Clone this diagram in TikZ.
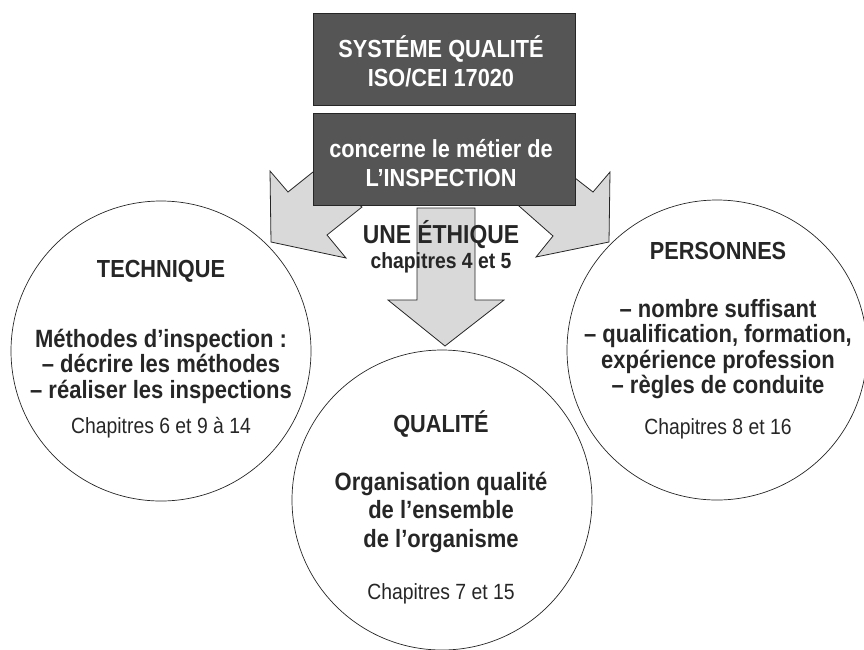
\documentclass[tikz,border=0pt]{standalone}
\usepackage{fontspec}
\setmainfont{Liberation Sans}[FakeStretch=0.88]
\definecolor{boxgray}{RGB}{85,85,85}
\definecolor{arrowgray}{RGB}{217,217,217}
\definecolor{ink}{RGB}{38,38,38}
\tikzset{
  darkbox/.style={draw=black!85, line width=0.8pt, fill=boxgray},
  blockarrow/.style={draw=black!85, line width=0.8pt, fill=arrowgray, line join=miter},
  ring/.style={circle, draw=black!85, line width=0.7pt, minimum size=300pt, inner sep=0pt},
  boxtext/.style={text=white, font=\bfseries\fontsize{24.7}{29}\selectfont, align=center, inner sep=0pt},
  headtext/.style={text=ink, font=\bfseries\fontsize{24.7}{25}\selectfont, align=center, inner sep=0pt},
  bodytext/.style={text=ink, font=\bfseries\fontsize{25}{25.5}\selectfont, align=center, inner sep=0pt},
  chaptext/.style={text=ink, font=\fontsize{22}{23}\selectfont, align=center, inner sep=0pt},
}
\begin{document}
\begin{tikzpicture}[x=1pt,y=-1pt]
\useasboundingbox (0,0) rectangle (864,649);
\clip (0,0) rectangle (864,649);
% side arrows
\draw[blockarrow] (270,171) -- (288,192) -- (313,172) -- (362,207) -- (327,235) -- (346,258) -- (271,242) -- cycle;
\draw[blockarrow] (610,172) -- (593,192) -- (575,178) -- (519,206) -- (553,236) -- (536,257) -- (609,242) -- cycle;
% boxes
\node[darkbox, minimum width=262pt, minimum height=92pt, inner sep=0pt] (sys) at (444,59) {};
\node[darkbox, minimum width=262pt, minimum height=92pt, inner sep=0pt] (conc) at (444,159) {};
\node[boxtext] (systxt) at (441,61) {SYSTÉME QUALITÉ\\ISO/CEI 17020};
\node[boxtext] (conctxt) at (441,163) {concerne le métier de\\L’INSPECTION};
% centre arrow
\draw[blockarrow] (417,208) -- (475,208) -- (475,300) -- (504,300) -- (445,346) -- (388,300) -- (417,300) -- cycle;
% ethics text
\node[text=ink, font=\bfseries\fontsize{26}{28}\selectfont, inner sep=0pt] (eth) at (441,235) {UNE ÉTHIQUE};
\node[text=ink, font=\bfseries\fontsize{22}{23}\selectfont, inner sep=0pt] (ethch) at (441,263) {chapitres 4 et 5};
% circles
\node[ring] (tech) at (161,351) {};
\node[ring] (pers) at (717,350) {};
\node[ring] (qual) at (442,500) {};
% technique
\node[headtext] (techh) at (161,271) {TECHNIQUE};
\node[bodytext] (techb) at (161,366) {Méthodes d’inspection :\\– décrire les méthodes\\– réaliser les inspections};
\node[chaptext] (techc) at (161,428) {Chapitres 6 et 9 à 14};
% personnes
\node[headtext] (persh) at (718,251) {PERSONNES};
\node[bodytext] (persb) at (718,349) {– nombre suffisant\\– qualification, formation,\\expérience profession\\– règles de conduite};
\node[chaptext] (persc) at (718,429) {Chapitres 8 et 16};
% qualite
\node[headtext] (qualh) at (441,424) {QUALITÉ};
\node[text=ink, font=\bfseries\fontsize{25}{28.5}\selectfont, align=center, inner sep=0pt] (qualb) at (441,512) {Organisation qualité\\de l’ensemble\\de l’organisme};
\node[chaptext] (qualc) at (441,594) {Chapitres 7 et 15};
\end{tikzpicture}
\end{document}
